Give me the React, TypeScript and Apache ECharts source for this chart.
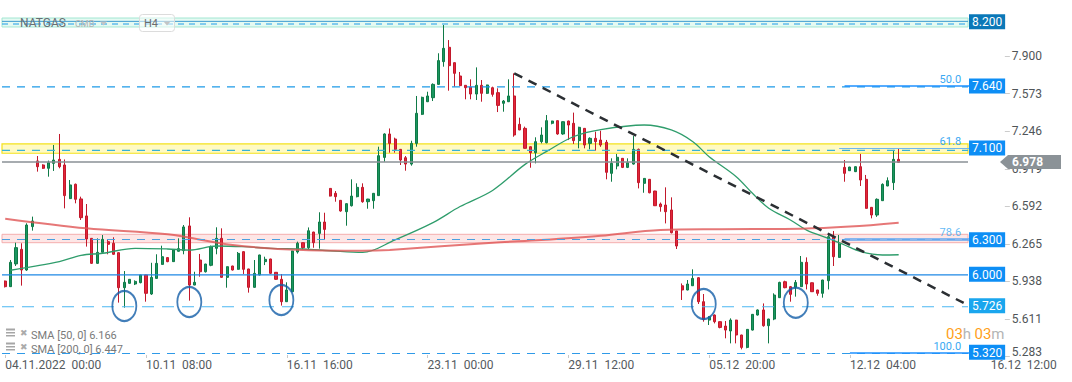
import React, { useEffect, useRef } from 'react';
import * as echarts from 'echarts';

const SLOT_COUNT = 196;
const Y_MIN = 5.2706;
const Y_MAX = 8.389;

// H4 candles: [open, close, low, high]
const candles: number[][] = [
  [5.941, 5.892, 5.885, 5.945], [5.892, 6.104, 5.89, 6.124], [6.09, 6.232, 6.072, 6.275], [6.217, 6.037, 5.901, 6.27],
  [6.037, 6.429, 6.03, 6.444], [6.415, 6.464, 6.38, 6.502], [6.987, 6.937, 6.894, 7.03], [6.952, 6.923, 6.917, 6.958],
  [6.923, 6.972, 6.85, 6.99], [6.966, 6.995, 6.9, 7.126], [7.001, 6.937, 6.923, 7.222], [6.952, 6.685, 6.574, 7.0],
  [6.659, 6.778, 6.655, 6.821], [6.784, 6.653, 6.618, 6.79], [6.656, 6.493, 6.473, 6.676], [6.508, 6.307, 6.241, 6.612],
  [6.313, 6.095, 6.09, 6.315], [6.095, 6.191, 6.09, 6.313], [6.191, 6.304, 6.188, 6.342], [6.284, 6.261, 6.174, 6.298],
  [6.27, 6.174, 6.17, 6.322], [6.188, 5.883, 5.753, 6.19], [5.883, 5.93, 5.709, 6.028], [5.921, 5.956, 5.918, 5.958],
  [5.915, 5.938, 5.906, 5.947], [5.927, 5.994, 5.921, 5.996], [5.994, 5.834, 5.761, 5.996], [5.828, 5.973, 5.82, 6.1],
  [5.964, 6.095, 5.962, 6.174], [6.086, 6.153, 6.084, 6.249], [6.145, 6.11, 6.105, 6.147], [6.11, 6.211, 6.108, 6.217],
  [6.2, 6.223, 6.198, 6.313], [6.206, 6.412, 6.174, 6.429], [6.421, 5.906, 5.77, 6.496], [5.906, 5.93, 5.904, 6.022],
  [6.124, 6.022, 5.979, 6.177], [6.022, 6.089, 6.015, 6.091], [6.078, 6.241, 6.07, 6.25], [6.226, 6.313, 6.174, 6.409],
  [6.313, 5.973, 5.97, 6.4], [5.973, 6.066, 5.883, 6.068], [6.072, 6.037, 6.033, 6.074], [6.043, 6.182, 6.04, 6.194],
  [6.197, 6.043, 6.002, 6.2], [6.046, 5.886, 5.84, 6.048], [5.886, 6.008, 5.884, 6.124], [5.994, 6.168, 5.99, 6.17],
  [6.11, 6.13, 6.08, 6.153], [6.133, 6.008, 6.004, 6.135], [6.017, 5.956, 5.952, 6.019], [5.956, 5.761, 5.727, 6.002],
  [5.761, 5.863, 5.759, 5.93], [5.848, 6.203, 5.846, 6.205], [6.194, 6.27, 6.18, 6.284],
  [6.275, 6.231, 6.217, 6.277], [6.231, 6.379, 6.217, 6.408], [6.368, 6.275, 6.231, 6.37], [6.356, 6.455, 6.223, 6.54],
  [6.455, 6.391, 6.304, 6.536], [6.748, 6.681, 6.678, 6.75], [6.705, 6.676, 6.632, 6.725], [6.644, 6.551, 6.545, 6.646],
  [6.545, 6.615, 6.423, 6.617], [6.597, 6.681, 6.59, 6.827], [6.676, 6.757, 6.67, 6.792], [6.757, 6.632, 6.623, 6.792],
  [6.632, 6.655, 6.571, 6.657], [6.641, 6.705, 6.571, 6.707], [6.685, 7.033, 6.683, 7.111], [7.018, 7.222, 6.98, 7.228],
  [7.222, 7.14, 7.059, 7.27], [7.178, 7.088, 7.059, 7.19], [7.088, 6.995, 6.952, 7.09], [7.015, 6.96, 6.902, 7.03],
  [6.96, 7.14, 6.946, 7.163], [7.14, 7.402, 7.111, 7.553], [7.393, 7.541, 7.387, 7.547], [7.503, 7.553, 7.5, 7.59],
  [7.538, 7.654, 7.509, 7.663], [7.654, 7.861, 7.652, 7.925], [7.852, 7.968, 7.808, 8.171], [7.977, 7.817, 7.599, 8.04],
  [7.843, 7.75, 7.634, 7.845], [7.727, 7.643, 7.64, 7.762], [7.646, 7.625, 7.524, 7.648], [7.631, 7.57, 7.524, 7.698],
  [7.57, 7.646, 7.518, 7.802], [7.646, 7.576, 7.503, 7.692], [7.576, 7.649, 7.57, 7.651], [7.625, 7.567, 7.547, 7.634],
  [7.582, 7.471, 7.413, 7.62], [7.489, 7.509, 7.416, 7.518], [7.503, 7.553, 7.5, 7.698], [7.553, 7.213, 7.198, 7.75],
  [7.306, 7.257, 7.255, 7.364], [7.271, 7.097, 7.095, 7.286], [7.111, 7.059, 6.928, 7.113], [7.059, 7.155, 6.966, 7.193],
  [7.155, 7.213, 7.14, 7.28], [7.146, 7.338, 7.14, 7.387], [7.315, 7.335, 7.306, 7.337], [7.338, 7.222, 7.215, 7.34],
  [7.222, 7.329, 7.215, 7.331], [7.335, 7.3, 7.169, 7.338], [7.315, 7.164, 7.135, 7.408], [7.164, 7.28, 7.097, 7.285],
  [7.271, 7.126, 7.097, 7.273], [7.14, 7.184, 7.088, 7.193], [7.184, 7.155, 7.077, 7.242], [7.169, 7.126, 7.11, 7.25],
  [7.15, 6.888, 6.827, 7.17],
  [6.879, 6.966, 6.806, 7.01], [6.943, 7.019, 6.914, 7.048], [7.01, 6.931, 6.925, 7.012], [6.931, 6.972, 6.925, 7.01],
  [6.96, 7.088, 6.955, 7.204], [7.088, 6.798, 6.748, 7.095], [6.792, 6.835, 6.71, 6.837], [6.827, 6.71, 6.705, 6.829],
  [6.725, 6.597, 6.595, 6.727], [6.612, 6.589, 6.545, 6.625], [6.603, 6.545, 6.443, 6.757], [6.56, 6.362, 6.356, 6.67],
  [6.377, 6.246, 6.22, 6.379], [5.9, 5.863, 5.776, 5.92], [5.863, 5.915, 5.86, 5.95], [5.9, 5.964, 5.898, 6.043],
  [5.97, 5.761, 5.741, 5.975], [5.761, 5.607, 5.587, 5.828], [5.601, 5.63, 5.558, 5.635], [5.645, 5.587, 5.572, 5.65],
  [5.587, 5.537, 5.529, 5.589], [5.549, 5.514, 5.442, 5.593], [5.506, 5.601, 5.398, 5.616], [5.601, 5.471, 5.398, 5.603],
  [5.471, 5.363, 5.346, 5.473], [5.363, 5.52, 5.355, 5.522], [5.514, 5.651, 5.51, 5.653], [5.645, 5.689, 5.64, 5.694],
  [5.689, 5.552, 5.543, 5.746], [5.552, 5.61, 5.398, 5.612], [5.61, 5.819, 5.6, 5.834], [5.796, 5.929, 5.794, 5.935],
  [5.935, 5.883, 5.878, 5.944], [5.892, 5.825, 5.761, 5.898], [5.886, 5.929, 5.805, 5.95], [5.892, 6.104, 5.89, 6.159],
  [6.104, 5.915, 5.868, 6.147], [5.926, 5.848, 5.846, 5.928], [5.863, 5.834, 5.813, 5.865], [5.834, 5.95, 5.796, 5.952],
  [5.944, 6.327, 5.868, 6.342], [6.327, 6.153, 6.072, 6.377], [6.147, 6.264, 6.145, 6.342], [6.931, 6.879, 6.806, 6.995],
  [6.902, 6.934, 6.9, 6.936], [6.894, 6.937, 6.89, 6.94], [6.937, 6.821, 6.769, 7.048], [6.827, 6.574, 6.572, 6.865],
  [6.583, 6.516, 6.487, 6.585], [6.516, 6.653, 6.5, 6.661], [6.641, 6.783, 6.639, 6.792], [6.769, 6.815, 6.767, 6.844],
  [6.798, 7.001, 6.734, 7.083], [7.001, 6.975, 6.973, 7.097],
];

// moving averages: [bar index, value]
const sma50: number[][] = [
  [1, 6.035], [5, 6.066], [10, 6.11], [14, 6.165], [18, 6.183], [24, 6.226], [30, 6.22], [34, 6.211], [39, 6.246],
  [44, 6.24], [49, 6.226], [55, 6.22], [60, 6.205], [66, 6.19], [72, 6.3], [79, 6.45], [84, 6.59], [90, 6.73],
  [96, 6.957], [100, 7.07], [105, 7.2], [110, 7.26], [118, 7.3], [123, 7.257], [127, 7.155], [130, 7.024],
  [135, 6.85], [138, 6.705], [141, 6.575], [145, 6.473], [148, 6.385], [152, 6.313], [155, 6.255], [158, 6.197],
  [162, 6.168], [165, 6.17],
];
const sma200: number[][] = [
  [0, 6.484], [15, 6.4], [30, 6.348], [42, 6.255], [55, 6.211], [66, 6.205], [71, 6.212], [90, 6.275],
  [99, 6.298], [110, 6.335], [121, 6.386], [132, 6.393], [147, 6.397], [156, 6.415], [165, 6.449],
];
const smaLegendValues = { sma50: '6.166', sma200: '6.447' };

const trendLine: number[][] = [[94, 7.75], [177, 5.75]];
const circleMarks: number[][] = [[22, 5.723], [34, 5.758], [51, 5.776], [129, 5.741], [146, 5.752]];

const xTickLabels: [number, string][] = [
  [0, '04.11.2022  00:00'], [26, '10.11  08:00'], [52, '16.11  16:00'], [78, '23.11  00:00'],
  [104, '29.11  12:00'], [130, '05.12  20:00'], [156, '12.12  04:00'], [182, '16.12  12:00'],
];
const yTickValues = [5.283, 5.611, 5.938, 6.265, 6.592, 6.919, 7.246, 7.573, 7.9];

const priceTagValues = [8.2, 7.64, 7.1, 6.3, 6.0, 5.726, 5.32];
const dashedLevelValues = [8.18, 7.632, 7.08, 6.303, 5.717, 5.31];
const solidLevelValues = [8.203, 5.994];
const currentPrice = 6.978;
const bands: number[][] = [[8.232, 8.154], [7.135, 7.054], [6.348, 6.275]];
const fibLevels = [
  { ratio: '50.0', value: 7.638, fromIndex: 155 },
  { ratio: '61.8', value: 7.1, fromIndex: 154 },
  { ratio: '78.6', value: 6.305, fromIndex: 155 },
  { ratio: '100.0', value: 5.318, fromIndex: 156 },
];

export default function App() {
  const ref = useRef<HTMLDivElement>(null);

  useEffect(() => {
    const el = ref.current as HTMLDivElement;
    const chart = echarts.init(el, undefined, { renderer: 'svg' });
    const slotW = 5.415;
    const categories = Array.from({ length: SLOT_COUNT }, (_, i) => String(i));
    const labelMap = new Map<number, string>(xTickLabels);

    const tagColors = ['#0b78b8', '#0d8ef5', '#0d8ef5', '#0d8ef5', '#0d8ef5', '#1aa6ee', '#0d8ef5'];
    const tagRich: Record<string, any> = {};
    tagColors.forEach((c, k) => {
      tagRich['t' + k] = {
        backgroundColor: c, color: '#fff', fontSize: 12, fontFamily: 'Roboto',
        padding: [2, 3, 1, 3], lineHeight: 12,
      };
    });

    const dashedStyles = [
      { color: '#1e9be8', type: [6, 5] },
      { color: '#1e9be8', type: [8, 7] },
      { color: '#37b2d6', type: [8, 7] },
      { color: '#4aa0e0', type: [8, 7] },
      { color: '#4cb8f2', type: [12, 8] },
      { color: '#2f9ae8', type: [8, 7] },
    ];
    const solidStyles = [
      { color: '#3d9ad0', width: 1 },
      { color: '#1e88e5', width: 1.3 },
    ];
    const bandStyles = [
      { color: 'rgba(110,225,185,0.18)', borderColor: '#a3e6d2', borderWidth: 1 },
      { color: 'rgba(255,236,0,0.24)', borderColor: '#f3e21c', borderWidth: 1.2 },
      { color: 'rgba(245,120,120,0.19)', borderColor: '#f4aeae', borderWidth: 1 },
    ];
    const fibStyles = [
      { color: '#1e90ff', width: 1.5, type: 'solid' },
      { color: '#6fb6ee', width: 1.2, type: 'solid' },
      { color: '#6aaaf0', width: 3, type: 'solid', opacity: 0.8 },
      { color: '#1e90ff', width: 1.5, type: 'solid' },
    ];

    const levelSeries: any[] = [];
    dashedLevelValues.forEach((v, k) => {
      levelSeries.push({
        type: 'line', xAxisIndex: 1, yAxisIndex: 1, data: [[0, v], [1, v]], showSymbol: false, silent: true,
        lineStyle: { color: dashedStyles[k].color, type: dashedStyles[k].type, width: 1.2 }, z: 4,
        ...(k === 0 ? {
          markArea: {
            silent: true,
            label: { show: false },
            data: bands.map(([top, bottom], b) => [
              { coord: [0, top], itemStyle: bandStyles[b] },
              { coord: [1, bottom] },
            ]),
          },
        } : {}),
      });
    });
    solidLevelValues.forEach((v, k) => {
      levelSeries.push({
        type: 'line', xAxisIndex: 1, yAxisIndex: 1, data: [[0, v], [1, v]], showSymbol: false, silent: true,
        lineStyle: { color: solidStyles[k].color, width: solidStyles[k].width }, z: 4,
      });
    });
    levelSeries.push({
      type: 'line', xAxisIndex: 1, yAxisIndex: 1, data: [[0, currentPrice], [1, currentPrice]], showSymbol: false,
      silent: true, lineStyle: { color: '#8a9196', width: 1.5 }, z: 4,
    });

    const option: any = {
      animation: false,
      backgroundColor: '#ffffff',
      grid: [
        { left: 2.5, top: 0, width: SLOT_COUNT * slotW, height: 358 },
        { left: 2, top: 0, width: 966, height: 358 },
      ],
      xAxis: [
        {
          type: 'category', gridIndex: 0, data: categories, boundaryGap: true,
          axisLine: { show: false },
          axisTick: {
            show: true, inside: true, length: 3, alignWithLabel: true,
            interval: (i: number) => labelMap.has(i), lineStyle: { color: '#c8c8c8' },
          },
          axisLabel: {
            interval: (i: number) => labelMap.has(i),
            formatter: (v: string) => labelMap.get(Number(v)) ?? '',
            align: 'left', color: '#555a5e', fontSize: 12, margin: 1, fontFamily: 'Roboto',
          },
          splitLine: { show: false },
        },
        { type: 'value', gridIndex: 1, min: 0, max: 1, show: false },
      ],
      yAxis: [
        {
          type: 'value', gridIndex: 0, position: 'right', min: Y_MIN, max: Y_MAX, offset: -59,
          axisLine: { show: false },
          axisTick: { show: true, length: 5, customValues: yTickValues, lineStyle: { color: '#cccccc' } },
          axisLabel: {
            customValues: yTickValues,
            formatter: (v: number) => (Math.abs(v - yTickValues[0]) < 1e-6 ? `{low|${v.toFixed(3)}}` : v.toFixed(3)),
            rich: { low: { padding: [0, 0, 10, 0], color: '#505558', fontSize: 12, fontFamily: 'Roboto' } },
            color: '#505558', fontSize: 12, margin: 7, fontFamily: 'Roboto',
          },
          splitLine: { show: false },
        },
        {
          type: 'value', gridIndex: 1, position: 'right', min: Y_MIN, max: Y_MAX, offset: 0,
          axisLine: { show: false }, axisTick: { show: false },
          axisLabel: {
            customValues: priceTagValues,
            formatter: (v: number) => {
              const k = priceTagValues.findIndex((p) => Math.abs(p - v) < 1e-6);
              return k < 0 ? '' : `{t${k}|${priceTagValues[k].toFixed(3)}}`;
            },
            rich: tagRich, margin: 1,
          },
          splitLine: { show: false },
        },
      ],
      series: [
        {
          type: 'candlestick', xAxisIndex: 0, yAxisIndex: 0, data: candles, barWidth: 2.6, z: 2,
          itemStyle: {
            color: '#1a9660', color0: '#e3263a', borderColor: '#0f7a47', borderColor0: '#c2182b', borderWidth: 1,
          },
        },
        {
          type: 'line', xAxisIndex: 0, yAxisIndex: 0, data: sma50, showSymbol: false, smooth: 0.35, silent: true,
          lineStyle: { color: '#2f9d6c', width: 1.3 }, z: 3,
        },
        {
          type: 'line', xAxisIndex: 0, yAxisIndex: 0, data: sma200, showSymbol: false, smooth: 0.35, silent: true,
          lineStyle: { color: '#e05555', width: 2, opacity: 0.8 }, z: 3,
        },
        ...levelSeries,
        {
          type: 'line', xAxisIndex: 0, yAxisIndex: 0, data: trendLine, showSymbol: false, silent: true,
          lineStyle: { color: '#2b2f33', width: 2.5, type: [9, 7] }, z: 6,
          markLine: {
            silent: true, symbol: ['none', 'none'],
            label: { show: false },
            data: fibLevels.map((f, k) => [
              {
                coord: [f.fromIndex, f.value], lineStyle: fibStyles[k],
                label: {
                  show: true, position: 'insideEndTop', formatter: f.ratio, color: '#3aa8f2',
                  fontSize: 11, lineHeight: 11, fontFamily: 'Roboto', distance: [8, 1],
                },
              },
              { coord: [178, f.value] },
            ]),
          },
        },
        {
          type: 'scatter', xAxisIndex: 0, yAxisIndex: 0, data: circleMarks, symbol: 'circle', symbolSize: [24, 30],
          silent: true, itemStyle: { color: 'rgba(0,0,0,0)', borderColor: '#135ea8', borderWidth: 2 }, z: 7,
        },
      ],
    };

    chart.setOption(option);

    const py = chart.convertToPixel({ yAxisIndex: 0 }, currentPrice) as number;
    const txt = (x: number, y: number, text: string, fill: string, fontSize: number, extra: any = {}) => ({
      type: 'text', x, y, z: 100,
      style: { text, fill, fontSize, fontFamily: 'Roboto', verticalAlign: 'middle', ...extra },
    });
    const graphic: any[] = [
      txt(20, 23, 'NATGAS', '#686f74', 12),
      txt(75, 24, 'CMB', '#b3b3b3', 9),
      { type: 'polygon', z: 100, shape: { points: [[100, 21.5], [107, 21.5], [103.5, 25.5]] }, style: { fill: '#c4c4c4' } },
      { type: 'rect', z: 99, shape: { x: 139.5, y: 14.5, width: 35, height: 17, r: 3 }, style: { fill: 'rgba(255,255,255,0.5)', stroke: '#dcdcdc', lineWidth: 1 } },
      txt(144, 23.5, 'H4', '#6d6d6d', 11),
      { type: 'polygon', z: 100, shape: { points: [[163.5, 21.5], [170.5, 21.5], [167, 25.5]] }, style: { fill: '#c4c4c4' } },
      // SMA legend
      { type: 'rect', z: 100, shape: { x: 6, y: 328.5, width: 9, height: 2 }, style: { fill: '#a6a6a6' } },
      { type: 'rect', z: 100, shape: { x: 6, y: 332, width: 9, height: 1.5 }, style: { fill: '#a6a6a6' } },
      { type: 'rect', z: 100, shape: { x: 6, y: 335, width: 9, height: 1.5 }, style: { fill: '#a6a6a6' } },
      txt(20, 333, '✖', '#ababab', 9, { fontFamily: 'DejaVu Sans' }),
      txt(31, 335.5, `SMA [50, 0] ${smaLegendValues.sma50}`, '#7a7a7a', 11),
      { type: 'rect', z: 100, shape: { x: 6, y: 342.5, width: 9, height: 2 }, style: { fill: '#a6a6a6' } },
      { type: 'rect', z: 100, shape: { x: 6, y: 346, width: 9, height: 1.5 }, style: { fill: '#a6a6a6' } },
      { type: 'rect', z: 100, shape: { x: 6, y: 349, width: 9, height: 1.5 }, style: { fill: '#a6a6a6' } },
      txt(20, 347, '✖', '#ababab', 9, { fontFamily: 'DejaVu Sans' }),
      txt(31, 349.5, `SMA [200, 0] ${smaLegendValues.sma200}`, '#7a7a7a', 11),
      // countdown
      {
        type: 'text', x: 946, y: 334, z: 100,
        style: {
          text: '{o|03}{g|h} {o|03}{g|m}', verticalAlign: 'middle',
          rich: {
            o: { fill: '#ff9f1a', fontSize: 15, lineHeight: 15, fontFamily: 'Roboto' },
            g: { fill: '#b4b4b4', fontSize: 15, lineHeight: 15, fontFamily: 'Roboto' },
          },
        },
      },
      // current price tag
      {
        type: 'polygon', z: 100,
        shape: { points: [[1000, py], [1008, py - 7], [1061, py - 7], [1061, py + 7], [1008, py + 7]] },
        style: { fill: '#8b9297' },
      },
      txt(1012, py + 0.5, currentPrice.toFixed(3), '#ffffff', 12, { fontWeight: 'bold' }),
    ];
    chart.setOption({ graphic });

    return () => chart.dispose();
  }, []);

  return (
    <div
      ref={ref}
      style={{ position: 'fixed', left: 0, top: 0, width: 1072, height: 382, background: '#fff' }}
    />
  );
}
